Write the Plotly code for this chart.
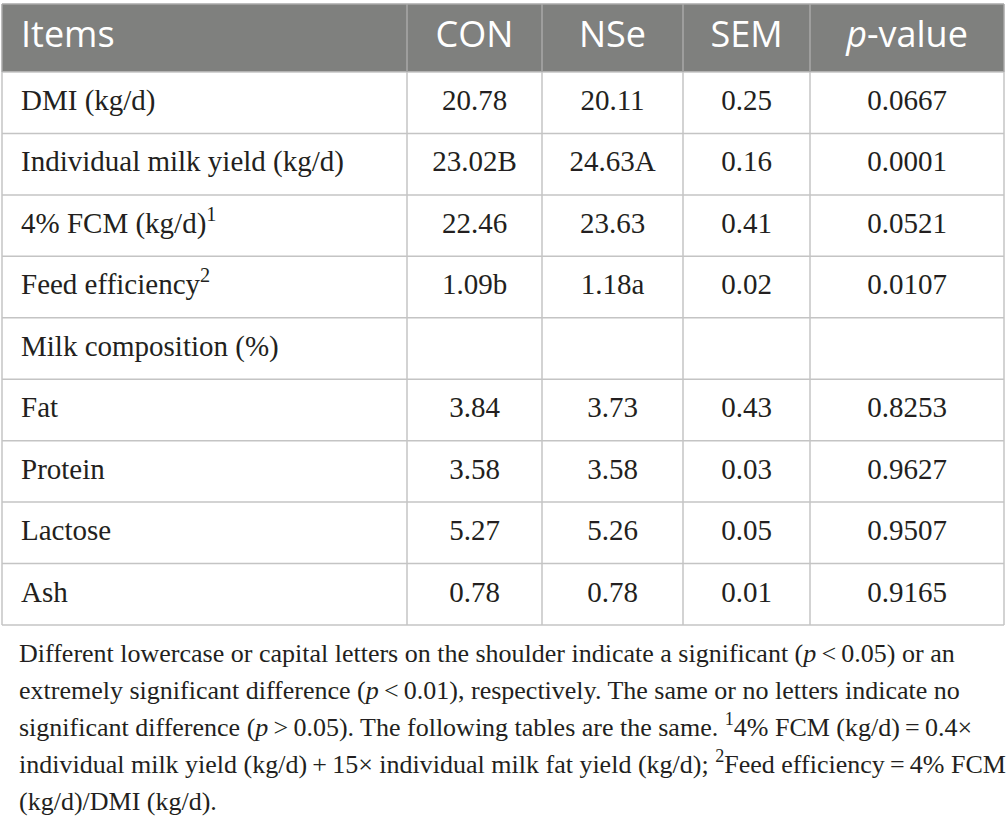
import plotly.graph_objects as go

# table content
headers = ["Items", "CON", "NSe", "SEM", "<i>p</i>-value"]
items = [
    "DMI (kg/d)",
    "Individual milk yield (kg/d)",
    "4% FCM (kg/d)<sup>1</sup>",
    "Feed efficiency<sup>2</sup>",
    "Milk composition (%)",
    "Fat",
    "Protein",
    "Lactose",
    "Ash",
]
con = ["20.78", "23.02B", "22.46", "1.09b", "", "3.84", "3.58", "5.27", "0.78"]
nse = ["20.11", "24.63A", "23.63", "1.18a", "", "3.73", "3.58", "5.26", "0.78"]
sem = ["0.25", "0.16", "0.41", "0.02", "", "0.43", "0.03", "0.05", "0.01"]
pval = ["0.0667", "0.0001", "0.0521", "0.0107", "", "0.8253", "0.9627", "0.9507", "0.9165"]

ts = "\u2009"  # thin space, as in the typeset footnote
footnote_lines = [
    f"Different lowercase or capital letters on the shoulder indicate a significant (<i>p</i>{ts}<{ts}0.05) or an",
    f"extremely significant difference (<i>p</i>{ts}<{ts}0.01), respectively. The same or no letters indicate no",
    f"significant difference (<i>p</i>{ts}>{ts}0.05). The following tables are the same. <sup>1</sup>4% FCM (kg/d){ts}={ts}0.4×",
    f"individual milk yield (kg/d){ts}+{ts}15× individual milk fat yield (kg/d); <sup>2</sup>Feed efficiency{ts}={ts}4% FCM",
    "(kg/d)/DMI (kg/d).",
]

columns = [items, con, nse, sem, pval]

# page geometry: axes run in window pixels
W, H = 1006, 827
col_edges = [2, 407, 542, 683, 810, 1004]
top, header_bottom, bottom = 4, 72, 625
n_rows = len(items)
row_h = (bottom - header_bottom) / n_rows
row_centers = [header_bottom + row_h * (i + 0.5) for i in range(n_rows)]

serif = "Liberation Serif"
text_color = "#231f20"
header_fill = "#7f807e"
header_line = "#a9a9a9"
grid_line = "#c4c4c4"

fig = go.Figure()

# header band
fig.add_shape(type="rect", x0=col_edges[0], x1=col_edges[-1], y0=top, y1=header_bottom,
              fillcolor=header_fill, line_width=0, layer="below")
fig.add_shape(type="line", x0=col_edges[0], x1=col_edges[-1], y0=top, y1=top,
              line=dict(color=header_line, width=1.5))

# horizontal rules
for k in range(n_rows + 1):
    y = header_bottom + k * row_h
    fig.add_shape(type="line", x0=col_edges[0], x1=col_edges[-1], y0=y, y1=y,
                  line=dict(color=grid_line, width=1.5))

# vertical rules
for x in col_edges:
    fig.add_shape(type="line", x0=x, x1=x, y0=top, y1=header_bottom,
                  line=dict(color=header_line, width=1.5))
    fig.add_shape(type="line", x0=x, x1=x, y0=header_bottom, y1=bottom,
                  line=dict(color=grid_line, width=1.5))

# header text
for j, h in enumerate(headers):
    if j == 0:
        hx, pos = col_edges[0] + 19, "middle right"
    else:
        hx, pos = (col_edges[j] + col_edges[j + 1]) / 2, "middle center"
    fig.add_trace(go.Scatter(
        x=[hx], y=[(top + header_bottom) / 2], text=[h], mode="text",
        textposition=pos, cliponaxis=False, hoverinfo="skip", showlegend=False,
        textfont=dict(family="Open Sans", size=36, color="white"),
    ))

# body cells (blank cells are left empty)
for j, col in enumerate(columns):
    if j == 0:
        cx, pos = col_edges[0] + 19, "middle right"
    else:
        cx, pos = (col_edges[j] + col_edges[j + 1]) / 2, "middle center"
    ys = [yc for yc, t in zip(row_centers, col) if t]
    txt = [t for t in col if t]
    fig.add_trace(go.Scatter(
        x=[cx] * len(ys), y=ys, text=txt, mode="text",
        textposition=pos, cliponaxis=False, hoverinfo="skip", showlegend=False,
        textfont=dict(family=serif, size=29, color=text_color),
    ))

# footnote
fig.add_trace(go.Scatter(
    x=[19] * len(footnote_lines), y=[655 + 37 * i for i in range(len(footnote_lines))],
    text=footnote_lines, mode="text", textposition="middle right",
    cliponaxis=False, hoverinfo="skip", showlegend=False,
    textfont=dict(family=serif, size=26, color=text_color),
))

fig.update_layout(
    width=W,
    height=H,
    margin=dict(l=0, r=0, t=0, b=0),
    paper_bgcolor="white",
    plot_bgcolor="white",
    xaxis=dict(range=[0, W], visible=False, fixedrange=True),
    yaxis=dict(range=[H, 0], visible=False, fixedrange=True),
)

# drop the browser's default body margin so the figure fills the window
fig.write_html(
    "out.html",
    config={"displayModeBar": False},
    post_script="document.body.style.margin='0px';",
)
